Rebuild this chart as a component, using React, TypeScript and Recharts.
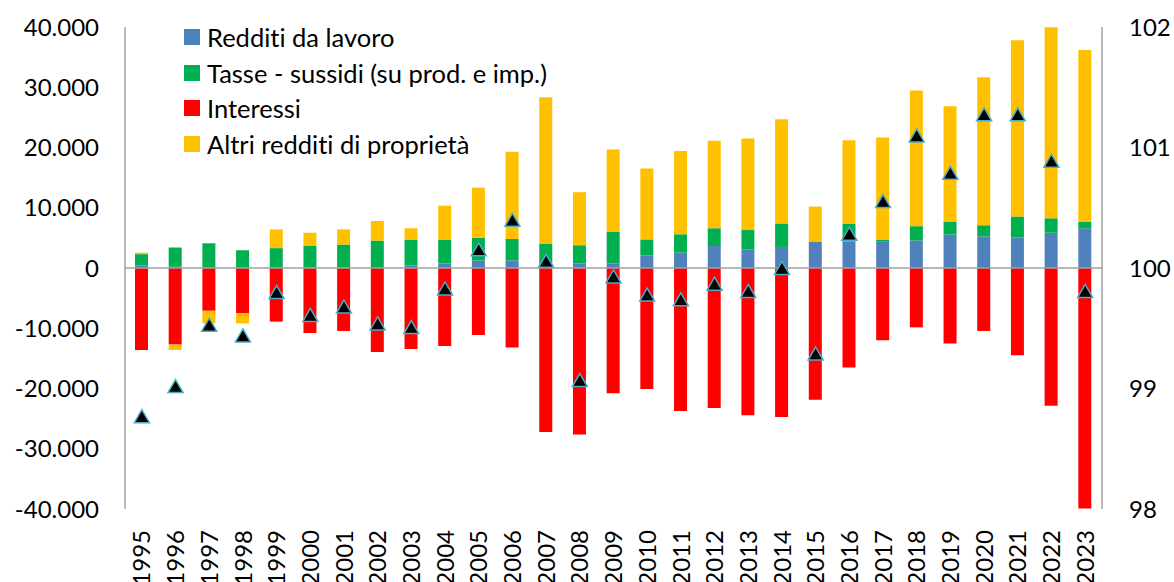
import React from "react";
import {
  ComposedChart,
  Bar,
  Line,
  XAxis,
  YAxis,
  ReferenceLine,
  Legend,
} from "recharts";

// anni
const years = [
  "1995", "1996", "1997", "1998", "1999", "2000", "2001", "2002", "2003", "2004",
  "2005", "2006", "2007", "2008", "2009", "2010", "2011", "2012", "2013", "2014",
  "2015", "2016", "2017", "2018", "2019", "2020", "2021", "2022", "2023",
];

// milioni di euro (asse sinistro)
const redditiLavoro = [
  400, 200, 100, 50, 100, 100, 100, 150, 450, 750,
  1250, 1250, 300, 780, 780, 2100, 2550, 3650, 3050, 3500,
  4400, 4400, 4450, 4550, 5550, 5250, 5050, 5850, 6600,
];
const tasseSussidi = [
  1900, 3200, 4000, 2900, 3200, 3550, 3800, 4400, 4200, 3900,
  3750, 3550, 3700, 3000, 5200, 2650, 3050, 2950, 3250, 3900,
  0, 2900, 200, 2400, 2100, 1850, 3500, 2400, 1050,
];
const interessi = [
  -13600, -12700, -7100, -7500, -8900, -10800, -10450, -13950, -13450, -12950,
  -11100, -13200, -27200, -27650, -20800, -20100, -23750, -23250, -24450, -24750,
  -21850, -16500, -12000, -9850, -12550, -10450, -14500, -22850, -39900,
];
const altriRedditi = [
  250, -900, -2100, -1700, 3100, 2200, 2500, 3250, 1950, 5700,
  8350, 14500, 24350, 8800, 13700, 11750, 13800, 14500, 15200, 17300,
  5800, 13900, 17000, 22500, 19200, 24550, 29250, 31700, 28550,
];

// indice (asse destro)
const indice = [
  98.77, 99.02, 99.53, 99.44, 99.8, 99.61, 99.68, 99.54, 99.51, 99.83,
  100.155, 100.4, 100.06, 99.07, 99.93, 99.78, 99.74, 99.87, 99.81, 100.0,
  99.29, 100.285, 100.556, 101.1, 100.79, 101.275, 101.275, 100.89, 99.81,
];

const leftTicks = [-40000, -30000, -20000, -10000, 0, 10000, 20000, 30000, 40000];
const rightTicks = [98, 99, 100, 101, 102];

const series = [
  { key: "lavoro", name: "Redditi da lavoro", color: "#4F81BD" },
  { key: "tasse", name: "Tasse - sussidi (su prod. e imp.)", color: "#00B050" },
  { key: "interessi", name: "Interessi", color: "#FF0000" },
  { key: "altri", name: "Altri redditi di proprietà", color: "#FFC000" },
];

const data = years.map((year, i) => ({
  year,
  lavoro: redditiLavoro[i],
  tasse: tasseSussidi[i],
  interessi: interessi[i],
  altri: altriRedditi[i],
  indice: indice[i],
}));

const FONT = "Lato, 'Open Sans', sans-serif";
const AXIS_GREY = "#a0a0a0";

// 40000 -> "40.000"
const formatThousands = (v: number) => {
  const s = String(Math.abs(v)).replace(/\B(?=(\d{3})+(?!\d))/g, ".");
  return v < 0 ? "-" + s : s;
};

const YearTick = (props: any) => {
  const { x, y, payload } = props;
  return (
    <text
      x={x}
      y={y}
      dy="0.36em"
      transform={`rotate(-90 ${x} ${y})`}
      textAnchor="end"
      fill="#000"
      fontSize={24}
      fontFamily={FONT}
    >
      {payload.value}
    </text>
  );
};

const TriangleDot = (props: any) => {
  const { cx, cy, index } = props;
  if (cx == null || cy == null) return null;
  const d = `M${cx},${cy - 6.5} L${cx + 7.5},${cy + 6.5} L${cx - 7.5},${cy + 6.5} Z`;
  return (
    <path
      key={`tri-${index}`}
      d={d}
      fill="#000"
      stroke="#4BACC6"
      strokeWidth={1.5}
    />
  );
};

const renderLegend = () => (
  <div
    style={{
      fontFamily: FONT,
      fontSize: 25.5,
      color: "#000",
      fontVariantLigatures: "none",
    }}
  >
    {series.map((s) => (
      <div
        key={s.key}
        style={{ display: "flex", alignItems: "center", height: 35.7, whiteSpace: "nowrap" }}
      >
        <span
          style={{
            display: "inline-block",
            width: 16,
            height: 16,
            background: s.color,
            marginRight: 7,
          }}
        />
        <span>{s.name}</span>
      </div>
    ))}
  </div>
);

export default function App() {
  return (
    <div style={{ position: "absolute", left: 0, top: 0, background: "#fff" }}>
      <ComposedChart
        width={1174}
        height={582}
        data={data}
        stackOffset="sign"
        margin={{ top: 27, right: 0, bottom: 0, left: 0 }}
        style={{ fontFamily: FONT }}
      >
        <XAxis
          dataKey="year"
          xAxisId="x"
          height={73}
          interval={0}
          axisLine={false}
          tickLine={false}
          tickSize={0}
          tickMargin={21}
          tick={<YearTick />}
        />
        <YAxis
          yAxisId="left"
          orientation="left"
          width={125}
          domain={[-40000, 40000]}
          ticks={leftTicks}
          tickFormatter={formatThousands}
          axisLine={{ stroke: AXIS_GREY, strokeWidth: 1.5 }}
          tickLine={false}
          tickSize={0}
          tickMargin={26}
          tick={{ fill: "#000", fontSize: 24, fontFamily: FONT }}
        />
        <YAxis
          yAxisId="right"
          orientation="right"
          width={72}
          domain={[98, 102]}
          ticks={rightTicks}
          axisLine={{ stroke: AXIS_GREY, strokeWidth: 1.5 }}
          tickLine={false}
          tickSize={0}
          tickMargin={27}
          tick={{ fill: "#000", fontSize: 24, fontFamily: FONT, textAnchor: "start" }}
        />
        <Legend
          content={renderLegend}
          layout="vertical"
          align="center"
          verticalAlign="middle"
          wrapperStyle={{ left: 184, top: 19, width: "auto" }}
        />
        {series.map((s) => (
          <Bar
            key={s.key}
            dataKey={s.key}
            name={s.name}
            stackId="a"
            xAxisId="x"
            yAxisId="left"
            fill={s.color}
            barSize={13}
            isAnimationActive={false}
          />
        ))}
        <ReferenceLine y={0} xAxisId="x" yAxisId="left" stroke={AXIS_GREY} strokeWidth={1.5} />
        <Line
          dataKey="indice"
          xAxisId="x"
          yAxisId="right"
          stroke="none"
          strokeWidth={0}
          dot={TriangleDot}
          activeDot={false}
          legendType="none"
          isAnimationActive={false}
        />
      </ComposedChart>
    </div>
  );
}
